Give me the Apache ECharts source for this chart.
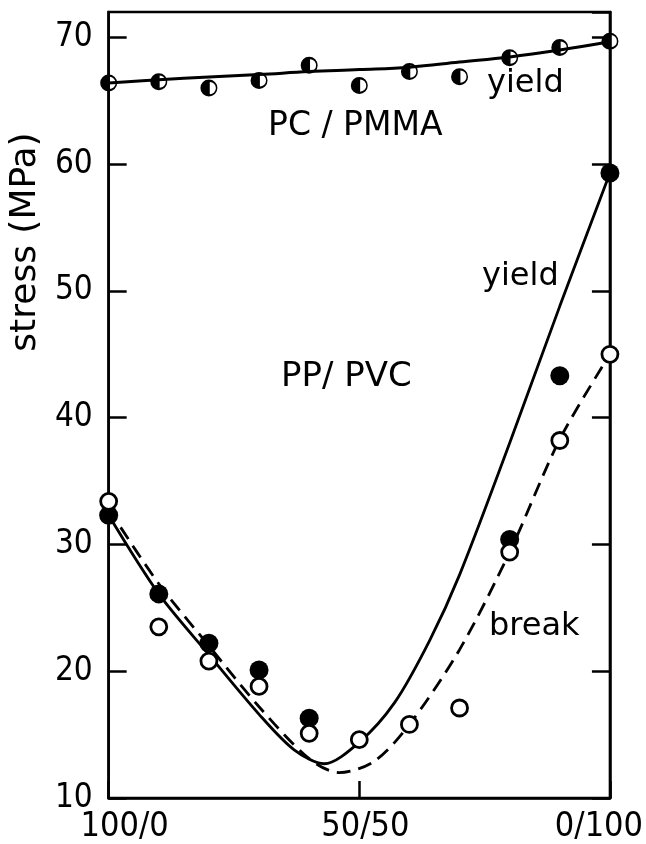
<!DOCTYPE html>
<html>
<head>
<meta charset="utf-8">
<script src="https://cdn.jsdelivr.net/npm/echarts@6/dist/echarts.min.js"></script>
<style>
  html, body { margin: 0; padding: 0; background: #fff; }
  #main { width: 646px; height: 844px; }
</style>
</head>
<body>
<div id="main"></div>
<script>
// blend composition, % of second polymer (100/0 ... 0/100)
const blendX = [0, 10, 20, 30, 40, 50, 60, 70, 80, 90, 100];
const xTickValues = [0, 50, 100];
const xTickLabels = ['100/0', '50/50', '0/100'];

// PC/PMMA yield stress (half filled symbols) and fitted curve
const pcPmmaYield = [66.4, 66.5, 66.0, 66.6, 67.8, 66.2, 67.3, 66.9, 68.4, 69.2, 69.7];
const pcPmmaFit = [66.4, 66.65, 66.88, 67.07, 67.3, 67.46, 67.65, 68.05, 68.45, 69.0, 69.65];

// PP/PVC yield (filled) and break (open) stresses
const ppYieldX = [0, 10, 20, 30, 40, 80, 90, 100];
const ppYield = [32.3, 26.1, 22.2, 20.1, 16.3, 30.4, 43.3, 59.3];
const ppBreak = [33.4, 23.5, 20.8, 18.8, 15.1, 14.6, 15.8, 17.1, 29.4, 38.2, 45.0];

// hand drawn curves through the PP/PVC data
const yieldCurveX = [0, 10, 20, 30, 37, 43, 50, 57, 64, 70, 80, 90, 100];
const yieldCurve = [32.3, 26.1, 21.3, 16.6, 13.8, 12.7, 14.4, 17.5, 22.4, 27.6, 38.0, 48.8, 59.3];
const breakCurveX = [0, 10, 20, 30, 40, 46, 53, 60, 70, 80, 90, 100];
const breakCurve = [32.8, 26.9, 22.0, 17.2, 13.1, 12.0, 12.9, 15.8, 21.7, 29.4, 38.3, 45.0];

const zip = (xs, ys) => xs.map((x, i) => [x, ys[i]]);

// left half solid, right half open ring
const halfSymbol = 'path://M10,0 A10,10 0 1,1 10,20 A10,10 0 1,1 10,0 Z M11,2.8 L11,17.2 A7.2,7.2 0 0,0 11,2.8 Z';

const font = 'DejaVu Sans Condensed, DejaVu Sans, sans-serif';
const textFont = 'DejaVu Sans, sans-serif';

const chart = echarts.init(document.getElementById('main'));
chart.setOption({
  backgroundColor: '#fff',
  animation: false,
  grid: {
    left: 108, right: 34, top: 12, bottom: 45,
    show: true, borderColor: '#000', borderWidth: 2.5
  },
  xAxis: {
    type: 'value', min: 0, max: 100, interval: 50,
    axisLine: { lineStyle: { color: '#000', width: 2.5 } },
    axisTick: { inside: true, length: 17, lineStyle: { color: '#000', width: 2.5 } },
    splitLine: { show: false },
    axisLabel: {
      margin: 12,
      color: '#000',
      formatter: v => {
        const i = xTickValues.indexOf(v);
        if (i < 0) return '';
        const key = ['a', 'b', 'c'][i];
        return '{' + key + '|' + xTickLabels[i] + '}';
      },
      rich: {
        a: { fontFamily: font, fontSize: 34, color: '#000', padding: [0, 0, 0, 32] },
        b: { fontFamily: font, fontSize: 34, color: '#000', padding: [0, 0, 0, 12] },
        c: { fontFamily: font, fontSize: 34, color: '#000', padding: [0, 22, 0, 0] }
      }
    }
  },
  yAxis: [{
    type: 'value', min: 10, max: 72, interval: 10,
    name: 'stress (MPa)',
    nameLocation: 'middle',
    nameGap: 64,
    nameTextStyle: { fontFamily: textFont, fontSize: 36, color: '#000', padding: [0, 0, 0, 326] },
    axisLine: { lineStyle: { color: '#000', width: 2.5 } },
    axisTick: { inside: true, length: 18, lineStyle: { color: '#000', width: 2.5 } },
    splitLine: { show: false },
    axisLabel: {
      margin: 16, color: '#000', fontFamily: font, fontSize: 33,
      showMaxLabel: false,
      formatter: v => (v % 10 === 0 ? String(v) : '')
    }
  }, {
    type: 'value', min: 10, max: 72, interval: 10, position: 'right',
    axisLine: { show: true, lineStyle: { color: '#000', width: 2.5 } },
    axisTick: { inside: true, length: 18, lineStyle: { color: '#000', width: 2.5 } },
    splitLine: { show: false },
    axisLabel: { show: false }
  }],
  series: [
    {
      type: 'line', data: zip(blendX, pcPmmaFit), smooth: 0.4, showSymbol: false,
      lineStyle: { color: '#000', width: 3 }, z: 2
    },
    {
      type: 'line', data: zip(yieldCurveX, yieldCurve), smooth: 0.3, showSymbol: false,
      lineStyle: { color: '#000', width: 2.8 }, z: 2
    },
    {
      type: 'line', data: zip(breakCurveX, breakCurve), smooth: 0.3, showSymbol: false,
      lineStyle: { color: '#000', width: 2.8, type: [14, 8] }, z: 2
    },
    {
      type: 'scatter', data: zip(blendX, pcPmmaYield), symbol: halfSymbol, symbolSize: 17,
      itemStyle: { color: '#000', opacity: 1 }, clip: false, z: 4
    },
    {
      type: 'scatter', data: zip(ppYieldX, ppYield), symbol: 'circle', symbolSize: 19,
      itemStyle: { color: '#000', opacity: 1 }, clip: false, z: 4
    },
    {
      type: 'scatter', data: zip(blendX, ppBreak), symbol: 'circle', symbolSize: 16,
      itemStyle: { color: '#fff', borderColor: '#000', borderWidth: 2.8, opacity: 1 }, clip: false, z: 5
    }
  ],
  graphic: [
    { type: 'text', left: 487, top: 68, style: { text: 'yield', font: '32px ' + textFont, fill: '#000' } },
    { type: 'text', left: 268, top: 110, style: { text: 'PC / PMMA', font: '33px ' + textFont, fill: '#000' } },
    { type: 'text', left: 482, top: 261, style: { text: 'yield', font: '32px ' + textFont, fill: '#000' } },
    { type: 'text', left: 281, top: 360, style: { text: 'PP/ PVC', font: '34px ' + textFont, fill: '#000' } },
    { type: 'text', left: 489, top: 611, style: { text: 'break', font: '32px ' + textFont, fill: '#000' } }
  ]
});
</script>
</body>
</html>
